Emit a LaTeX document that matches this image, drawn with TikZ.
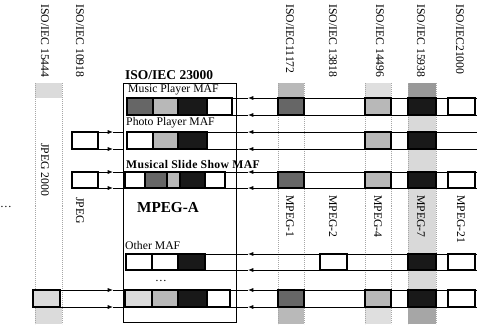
\documentclass[tikz,border=0pt]{standalone}
\usepackage{fontspec}
\setmainfont{Liberation Serif}
\usetikzlibrary{arrows.meta, positioning}
\definecolor{mpguno}{gray}{0.40}
\definecolor{mpgcuatro}{gray}{0.72}
\definecolor{mpgsiete}{gray}{0.10}
\definecolor{jpgdos}{gray}{0.86}
\tikzset{
  fila/.style={line width=0.7pt},
  flechaiz/.style={fila, -{Latex[length=4.5pt,width=3.5pt]}},
  caja/.style={draw=black, line width=1.1pt},
  borde/.style={draw=gray!70, densely dotted, line width=0.7pt},
  rotulo/.style={rotate=-90, anchor=west, inner sep=0pt, font=\fontsize{10}{12}\selectfont},
  maf/.style={anchor=west, inner sep=0pt, font=\fontsize{10}{12}\selectfont},
}
\begin{document}
\begin{tikzpicture}[x=0.03cm, y=-0.03cm]
  \useasboundingbox (0,0) rectangle (477,324);
  % franjas de las normas
  \fill[jpgdos] (35,83) rectangle (62,98);
  \fill[jpgdos] (35,307) rectangle (62,324);
  \fill[gray!55] (278,83) rectangle (304,98);
  \fill[gray!55] (278,307) rectangle (304,324);
  \fill[gray!25] (365,83) rectangle (391,98);
  \fill[gray!25] (365,307) rectangle (391,324);
  \fill[gray!30] (408,83) rectangle (436,324);
  \fill[gray!80] (408,83) rectangle (436,98);
  \fill[gray!70] (408,307) rectangle (436,324);
  \foreach \xa/\xb in {35/62, 278/304, 365/391, 408/436}
    \draw[borde] (\xa,83) -- (\xa,324) (\xb,83) -- (\xb,324);
  % rotulos de las normas
  \foreach \x/\nombre/\txt in {45/n15444/{ISO/IEC 15444}, 80/n10918/{ISO/IEC 10918}, 290/n11172/{ISO/IEC11172},
      333/n13818/{ISO/IEC 13818}, 380/n14496/{ISO/IEC 14496}, 421/n15938/{ISO/IEC 15938}, 460/n21000/{ISO/IEC21000}}
    \node[rotulo] (\nombre) at (\x,4) {\txt};
  \node[rotulo] (jpegdos) at (45,143) {JPEG 2000};
  \node[rotulo] (jpeg) at (80,197) {JPEG};
  \foreach \x/\nombre/\txt in {290/mpeguno/MPEG-1, 333/mpegdos/MPEG-2, 378/mpegcuatro/MPEG-4,
      421/mpegsiete/MPEG-7, 461/mpegveintiuno/MPEG-21}
    \node[rotulo] (\nombre) at (\x,195) {\txt};
  \node[font=\fontsize{10}{12}\selectfont] (puntosiz) at (6,207) {\dots};
  % bloque MPEG-A
  \draw[line width=0.8pt] (123,83) rectangle (236,322);
  \node[maf, font=\fontsize{11.5}{13}\selectfont\bfseries] (titulo) at (125,75) {ISO/IEC 23000};
  \node[maf] (musica) at (128,90) {Music Player MAF};
  \node[maf] (foto) at (126,123) {Photo Player MAF};
  \node[maf, font=\fontsize{10}{12}\selectfont\bfseries\addfontfeature{LetterSpace=3}] (diapo) at (126,164) {Musical Slide Show MAF};
  \node[font=\fontsize{13}{15}\selectfont\bfseries] (mpega) at (168,208) {MPEG-A};
  \node[maf] (otro) at (125,245) {Other MAF};
  \node[font=\fontsize{10}{12}\selectfont] (puntosin) at (161,281) {\dots};
  % filas: lineas y flechas hacia el bloque
  \foreach \ya/\yb/\xe in {98/115/232, 132/149/207, 172/188/225, 254/270/205, 290/307/230} {
    \draw[flechaiz] (477,\ya) -- (248,\ya);
    \draw[fila] (248,\ya) -- (\xe,\ya);
    \draw[flechaiz] (477,\yb) -- (248,\yb);
    \draw[fila] (248,\yb) -- (\xe,\yb);
  }
  \foreach \ya/\yb/\xa in {132/149/98, 172/188/98, 290/307/60} {
    \draw[flechaiz] (\xa,\ya) -- (113,\ya);
    \draw[fila] (113,\ya) -- (123,\ya);
    \draw[flechaiz] (\xa,\yb) -- (113,\yb);
    \draw[fila] (113,\yb) -- (123,\yb);
  }
  % cajas a la izquierda
  \draw[caja, fill=white] (72,132) rectangle (98,149);
  \draw[caja, fill=white] (72,172) rectangle (98,188);
  \draw[caja, fill=jpgdos] (33,290) rectangle (60,307);
  % cajas dentro del bloque
  \foreach \xa/\xb/\ya/\yb/\col in {127/153/98/115/mpguno, 153/178/98/115/mpgcuatro, 178/207/98/115/mpgsiete, 207/232/98/115/white,
      127/153/132/149/white, 153/178/132/149/mpgcuatro, 178/207/132/149/mpgsiete,
      125/145/172/188/white, 145/167/172/188/mpguno, 167/180/172/188/mpgcuatro, 180/205/172/188/mpgsiete, 205/225/172/188/white,
      126/152/254/270/white, 152/178/254/270/white, 178/205/254/270/mpgsiete,
      125/152/290/307/jpgdos, 152/178/290/307/mpgcuatro, 178/207/290/307/mpgsiete, 207/230/290/307/white}
    \draw[caja, fill=\col] (\xa,\ya) rectangle (\xb,\yb);
  % cajas en las columnas de la derecha
  \foreach \xa/\xb/\ya/\yb/\col in {278/304/98/115/mpguno, 365/391/98/115/mpgcuatro, 408/436/98/115/mpgsiete, 448/475/98/115/white,
      365/391/132/149/mpgcuatro, 408/436/132/149/mpgsiete,
      278/304/172/188/mpguno, 365/391/172/188/mpgcuatro, 408/436/172/188/mpgsiete, 448/475/172/188/white,
      320/347/254/270/white, 408/436/254/270/mpgsiete, 448/475/254/270/white,
      278/304/290/307/mpguno, 365/391/290/307/mpgcuatro, 408/436/290/307/mpgsiete, 448/475/290/307/white}
    \draw[caja, fill=\col] (\xa,\ya) rectangle (\xb,\yb);
\end{tikzpicture}
\end{document}
